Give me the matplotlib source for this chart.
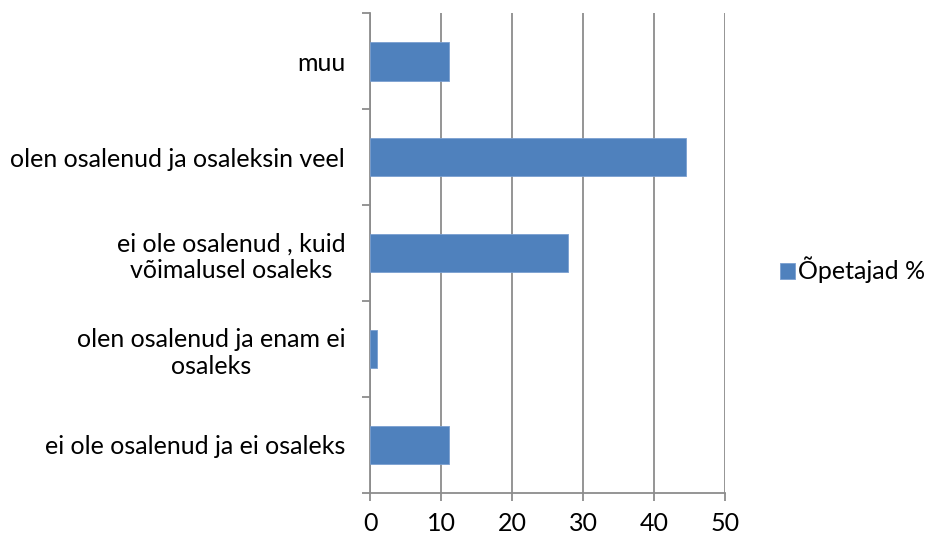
import matplotlib.pyplot as plt
import numpy as np

plt.rcParams['font.family'] = ['Lato', 'DejaVu Sans']

categories = ["ei ole osalenud ja ei osaleks",
              "olen osalenud ja enam ei\nosaleks",
              "ei ole osalenud , kuid\nvõimalusel osaleks",
              "olen osalenud ja osaleksin veel",
              "muu"]
values = [11.1, 1.0, 27.8, 44.4, 11.1]
series_name = "Õpetajad %"

fig = plt.figure(figsize=(9.3, 5.38), dpi=100)
ax = fig.add_axes([0.398, 0.084, 0.382, 0.891])

y = np.arange(len(categories))
ax.barh(y, values, height=0.4, color="#4F81BD", edgecolor="#7A9FD0",
        linewidth=0.6, label=series_name, zorder=3)

ax.set_xlim(0, 50)
ax.set_ylim(-0.5, len(categories) - 0.5)
ax.set_xticks(range(0, 51, 10))
ax.grid(axis="x", color="#8C8C8C", linewidth=1.3, zorder=0)

ax.set_yticks(y)
ax.set_yticklabels(categories, multialignment="center")
ax.set_yticks(np.arange(-0.5, len(categories)), minor=True)
ax.tick_params(axis="y", which="major", length=0, pad=18, labelsize=18)
ax.tick_params(axis="y", which="minor", length=6, width=1.3, color="#8C8C8C")
ax.tick_params(axis="x", length=6, width=1.3, color="#8C8C8C", pad=8,
               labelsize=18)

for s in ["top", "right"]:
    ax.spines[s].set_visible(False)
for s in ["left", "bottom"]:
    ax.spines[s].set_color("#8C8C8C")
    ax.spines[s].set_linewidth(1.3)

fig.legend(loc="center left", bbox_to_anchor=(0.825, 0.498), frameon=False,
           fontsize=18, handlelength=0.6, handleheight=0.6,
           handletextpad=0.15, borderpad=0)

fig.savefig("out.png", dpi=100)
